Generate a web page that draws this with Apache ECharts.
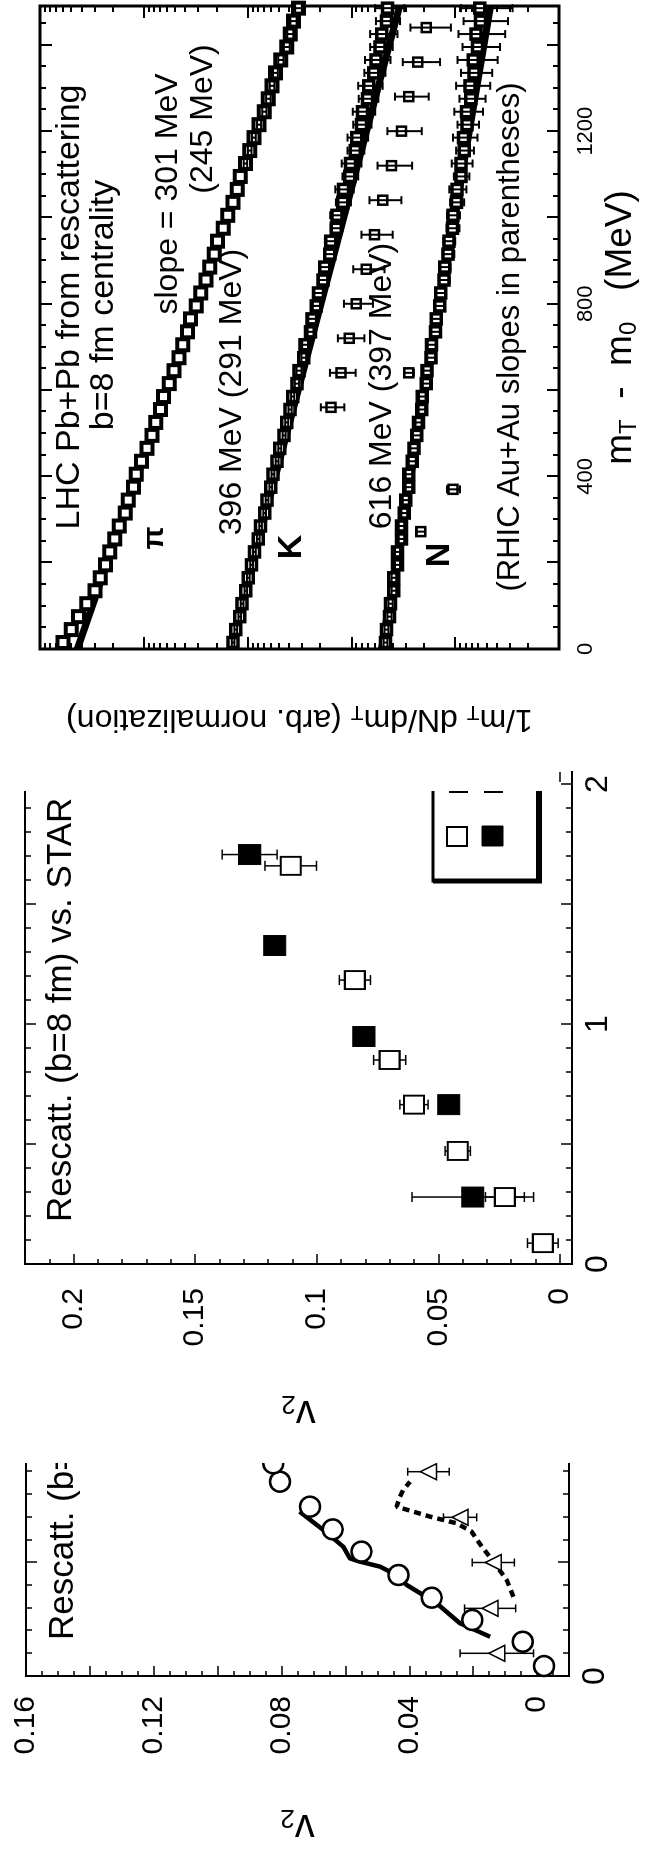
<!DOCTYPE html>
<html>
<head>
<meta charset="utf-8">
<script src="https://cdn.jsdelivr.net/npm/echarts@6/dist/echarts.min.js"></script>
<style>
  html, body { margin: 0; padding: 0; background: #fff; width: 645px; height: 1854px; overflow: hidden; }
  /* the three panels are laid out on a landscape sheet that is turned a quarter turn */
  #sheet { position: absolute; left: 0; top: 0; width: 1854px; height: 645px; background: #fff;
           transform-origin: 0 0; transform: translateY(1854px) rotate(-90deg); }
  .clip { position: absolute; top: 0; height: 645px; overflow: hidden; }
  .chart { position: absolute; left: 0; top: 0; height: 645px; }
  #cover { position: absolute; left: 1063px; top: 0; width: 791px; height: 555px; background: #fff; }
</style>
</head>
<body>
<div id="sheet">
  <div class="clip" style="left:0;width:391px;background:#fff"><div class="chart" id="p1" style="width:900px"></div></div>
  <div class="clip" style="left:391px;width:709px;background:#fff"><div class="chart" id="p2" style="width:1000px"></div></div>
  <div id="cover"></div>
  <div class="clip" style="left:1063px;width:791px"><div class="chart" id="p3" style="width:791px"></div></div>
</div>
<script>
const FONT = '"Liberation Sans", Arial, Helvetica, sans-serif';

// ---------- panel 1: v2(pT), rescattering, b=8 fm ----------
const p1CirclePt = [0.044, 0.151, 0.247, 0.345, 0.445, 0.548, 0.646, 0.746, 0.856, 0.937];
const p1CircleV2 = [-0.0022, 0.0045, 0.0203, 0.033, 0.0434, 0.055, 0.064, 0.0711, 0.0805, 0.0826];
const p1TriPt = [0.10, 0.298, 0.50, 0.699, 0.90];
const p1TriV2 = [0.0126, 0.0147, 0.0137, 0.0241, 0.034];
const p1TriErr = [0.0115, 0.008, 0.0066, 0.0052, 0.0065];
const p1SolidPt = [0.173, 0.232, 0.320, 0.401, 0.452, 0.482, 0.504, 0.518, 0.570, 0.643, 0.724];
const p1SolidV2 = [0.0147, 0.0241, 0.0314, 0.0408, 0.0450, 0.0492, 0.0555, 0.0586, 0.0607, 0.0669, 0.0743];
const p1DashPt = [0.349, 0.423, 0.504, 0.570, 0.636, 0.673, 0.687, 0.702, 0.724, 0.746, 0.790, 0.819, 0.856];
const p1DashV2 = [0.0074, 0.0095, 0.0137, 0.0173, 0.0205, 0.0252, 0.0293, 0.0335, 0.0387, 0.0440, 0.0429, 0.0419, 0.0398];
const p1XLabels = [0, 1, 2];
const p1YLabels = [0, 0.04, 0.08, 0.12, 0.16];

// ---------- panel 2: rescattering (b=8 fm) vs. STAR ----------
const p2OpenPt = [0.087, 0.279, 0.471, 0.664, 0.850, 1.183, 1.659];
const p2OpenV2 = [0.007, 0.0226, 0.042, 0.060, 0.070, 0.0843, 0.1107];
const p2OpenErr = [0.0063, 0.008, 0.0052, 0.0058, 0.0066, 0.0064, 0.0106];
const p2FilledPt = [0.279, 0.664, 0.948, 1.327, 1.706];
const p2FilledV2 = [0.0358, 0.0457, 0.0806, 0.1173, 0.1276];
const p2FilledErr = [0.025, 0.002, 0.002, 0.002, 0.0113];
const p2XLabels = [0, 1, 2];
const p2YLabels = [0, 0.05, 0.1, 0.15, 0.2];

// ---------- panel 3: mT spectra, LHC Pb+Pb ----------
const p3M = [15, 45, 75, 105, 135, 165, 195, 225, 255, 285, 315, 345, 375, 405, 435, 465, 495, 525, 555, 585,
             615, 645, 675, 705, 735, 765, 795, 825, 855, 885, 915, 945, 975, 1005, 1035, 1065, 1095, 1125, 1155, 1185,
             1215, 1245, 1275, 1305, 1335, 1365, 1395, 1425, 1455, 1485];
const piV = [60000, 50000, 42500, 35500, 29600, 26300, 23400, 21300, 19100, 17200, 15100, 14100, 12600, 11800, 10500, 9330, 8350, 7670, 6920, 6450,
             5690, 5130, 4590, 4220, 3800, 3540, 3130, 2820, 2520, 2320, 2090, 1950, 1720, 1550, 1380, 1260, 1180, 1050, 955, 870,
             776, 690, 631, 582, 540, 479, 420, 389, 362, 324];
const piErr = [0, 0, 0, 0, 0, 0, 0, 0, 0, 0, 0, 0, 0, 0, 0, 0, 0, 0, 0, 0,
               0, 0, 0, 0, 0, 0, 0, 0, 0, 0, 0, 0, 0, 0, 0, 0, 0, 40, 38, 36,
               35, 33, 32, 30, 29, 28, 27, 26, 25, 24];
const kV = [1380, 1300, 1190, 1130, 1040, 985, 915, 860, 790, 750, 685, 650, 598, 570, 520, 490, 445, 420, 390, 368,
            335, 320, 288, 280, 248, 240, 218, 208, 188, 181, 162, 158, 140, 138, 121, 119, 104, 102, 92, 89,
            80, 78, 70, 68, 61, 58, 53, 51, 46, 45];
const kErr = [40, 40, 35, 35, 30, 30, 28, 26, 24, 22, 20, 20, 18, 18, 17, 16, 15, 14, 14, 13,
              16, 18, 15, 18, 16, 20, 17, 20, 18, 20, 18, 22, 18, 22, 20, 24, 18, 22, 17, 20,
              16, 19, 15, 18, 14, 16, 13, 15, 12, 14];
const kLowM = [560, 640, 720, 800, 880, 960, 1040, 1120, 1200, 1280, 1360, 1440];
const kLowV = [157, 126, 105, 90, 72, 60, 50, 41, 33, 28, 23, 19];
const kLowErr = [40, 35, 30, 28, 24, 20, 17, 15, 12, 10, 9, 8];
const nV = [47, 46, 43, 42, 39, 39, 36, 36, 33, 33, 31, 30, 28, 28, 26, 25, 23.5, 22.6, 21, 20.8,
            19, 18.7, 17.1, 16.9, 15.5, 15.2, 14.1, 13.8, 12.8, 12.6, 11.7, 11.5, 10.6, 10.5, 9.7, 9.6, 8.8, 8.8, 8.2, 8.3,
            7.7, 7.8, 7.1, 7.2, 6.6, 6.7, 6.1, 6.3, 5.7, 5.8];
const nErr = [2, 2, 2, 2, 2, 2, 2, 2, 2, 2, 2, 2, 2, 2, 2, 2, 2, 1.5, 1.5, 1.5,
              1.5, 1.5, 1.5, 1.5, 1.5, 1.5, 1.5, 1.5, 1.5, 1.5, 1.5, 1.5, 1.5, 1.5, 1.5, 1.8, 1.5, 2, 1.6, 2.2,
              1.8, 2.4, 2, 2.6, 2.2, 2.8, 2.4, 3, 2.6, 3];
const nOddM = [272, 370, 640];
const nOddV = [21.5, 10.5, 28];
const nOddErr = [2, 1.5, 3];
// exponential fits: inverse slopes (MeV) as quoted, values at m = 0
const p3Slopes = [301, 396, 616];
const p3Norms = [43650, 1480, 51.3];
const p3MRange = [0, 1490];
const p3XLabels = [0, 400, 800, 1200];
const p3YDecades = [1, 10, 100, 1000, 10000, 100000];

// ---------- helpers ----------
function steps(a, b, step) {
  const out = [];
  for (let i = 0; a + i * step <= b + step * 1e-6; i++) out.push(+(a + i * step).toFixed(6));
  return out;
}
function minus(list, drop) {
  return list.filter(v => !drop.some(d => Math.abs(d - v) < 1e-9));
}
function pairs(xs, ys) { return xs.map((x, i) => [x, ys[i]]); }

// four overlaid axes per dimension: labelled major ticks, minor ticks, and their mirrors
function frameAxes(o) {
  const base = { type: o.type || 'value', min: o.min, max: o.max, gridIndex: 0,
    splitLine: { show: false }, minorTick: { show: false } };
  const line = (show) => ({ show: show, onZero: false, lineStyle: { color: '#000', width: o.lineWidth || 2, cap: 'square' } });
  const tick = (vals, len) => ({ show: true, inside: true, length: len, customValues: vals,
    lineStyle: { color: '#000', width: o.tickWidth || 1.5 } });
  const main = Object.assign({}, base, {
    position: o.pos, axisLine: line(!!o.drawLine), axisTick: tick(o.majors, o.majorLen),
    axisLabel: Object.assign({ show: !!o.labels, customValues: o.labels, color: '#000', fontFamily: FONT,
      formatter: v => String(v) }, o.label || {}),
    name: o.name || '', nameLocation: 'middle', nameGap: o.nameGap || 0, nameRotate: o.nameRotate,
    nameTextStyle: o.nameStyle
  });
  return [
    main,
    Object.assign({}, base, { position: o.pos, axisLine: line(false), axisTick: tick(o.minors, o.minorLen), axisLabel: { show: false } }),
    Object.assign({}, base, { position: o.mirror, axisLine: line(!!o.drawMirrorLine), axisTick: tick(o.majors, o.majorLen), axisLabel: { show: false } }),
    Object.assign({}, base, { position: o.mirror, axisLine: line(false), axisTick: tick(o.minors, o.minorLen), axisLabel: { show: false } })
  ];
}

function errorBars(rows, cap, width, z) {
  return {
    type: 'custom', z: z, silent: true, animation: false, clip: false,
    encode: { x: 0, y: [1, 2] },
    data: rows,
    renderItem: function (params, api) {
      const x = api.value(0);
      const hi = api.coord([x, api.value(2)]);
      const lo = api.coord([x, api.value(1)]);
      const st = { stroke: '#000', lineWidth: width, fill: null };
      return { type: 'group', children: [
        { type: 'line', shape: { x1: hi[0], y1: hi[1], x2: lo[0], y2: lo[1] }, style: st },
        { type: 'line', shape: { x1: hi[0] - cap, y1: hi[1], x2: hi[0] + cap, y2: hi[1] }, style: st },
        { type: 'line', shape: { x1: lo[0] - cap, y1: lo[1], x2: lo[0] + cap, y2: lo[1] }, style: st }
      ] };
    }
  };
}
function barRows(xs, ys, errs, floor) {
  const rows = [];
  xs.forEach((x, i) => {
    if (!errs[i]) return;
    rows.push([x, Math.max(ys[i] - errs[i], floor), ys[i] + errs[i]]);
  });
  return rows;
}
function marks(data, symbol, size, fill, border, z) {
  return { type: 'scatter', symbol: symbol, symbolSize: size, data: data, z: z, silent: true, animation: false,
    itemStyle: { color: fill, borderColor: '#000', borderWidth: border, opacity: 1 } };
}
function curve(data, width, dash, z) {
  return { type: 'line', data: data, symbol: 'none', showSymbol: false, z: z, silent: true, animation: false,
    lineStyle: { color: '#000', width: width, type: dash || 'solid', cap: 'butt' } };
}
function label(text, x, y, size, opts) {
  opts = opts || {};
  return { type: 'text', x: x, y: y, silent: true, z: 20,
    style: { text: text, fill: '#000', font: (opts.weight || 'normal') + ' ' + size + 'px ' + FONT,
      textAlign: opts.align || 'center', align: opts.align || 'center',
      textVerticalAlign: 'middle', verticalAlign: 'middle' } };
}
const sub = (size, drop) => ({ fontSize: size, fontFamily: FONT, color: '#000', padding: [drop, 0, 0, 0] });

// ---------- panel 1 ----------
const c1 = echarts.init(document.getElementById('p1'), null, { renderer: 'canvas' });
c1.setOption({
  animation: false,
  grid: { left: 178, top: 26, width: 454, height: 543, show: false, outerBoundsMode: 'none' },
  xAxis: frameAxes({ min: 0, max: 2, pos: 'bottom', mirror: 'top', drawLine: true, drawMirrorLine: true,
    majors: [0, 0.5, 1, 1.5, 2], minors: minus(steps(0, 2, 0.1), [0, 0.5, 1, 1.5, 2]),
    labels: p1XLabels, majorLen: 11, minorLen: 6, label: { fontSize: 32, margin: 10 } }),
  yAxis: frameAxes({ min: -0.01, max: 0.16, pos: 'left', mirror: 'right', drawLine: true,
    majors: steps(0, 0.16, 0.02), minors: minus(steps(-0.01, 0.16, 0.005), steps(0, 0.16, 0.02)),
    labels: p1YLabels, majorLen: 10, minorLen: 5, label: { fontSize: 30, margin: 20 },
    name: 'v{s|2}', nameGap: 128, nameRotate: 90,
    nameStyle: { fontSize: 40, fontFamily: FONT, color: '#000', rich: { s: sub(26, 18) } } }),
  graphic: [ label('Rescatt. (b=8 fm) vs. PHENIX', 214, 63, 35, { align: 'left' }) ],
  series: [
    curve(pairs(p1SolidPt, p1SolidV2), 4.5, 'solid', 3),
    curve(pairs(p1DashPt, p1DashV2), 4.5, [7, 5], 3),
    errorBars(barRows(p1TriPt, p1TriV2, p1TriErr, -1), 4, 1.5, 4),
    marks(pairs(p1TriPt, p1TriV2), 'triangle', 16, '#fff', 1.5, 5),
    marks(pairs(p1CirclePt, p1CircleV2), 'circle', 20, '#fff', 2.5, 6)
  ]
});

// ---------- panel 2 ----------
const c2 = echarts.init(document.getElementById('p2'), null, { renderer: 'canvas' });
c2.setOption({
  animation: false,
  grid: { left: 199, top: 25, width: 492, height: 547, show: false, outerBoundsMode: 'none' },
  xAxis: frameAxes({ min: 0, max: 2.05, pos: 'bottom', mirror: 'top', drawLine: true, drawMirrorLine: true,
    majors: [0, 0.5, 1, 1.5, 2], minors: minus(steps(0, 2, 0.1), [0, 0.5, 1, 1.5, 2]),
    labels: p2XLabels, majorLen: 11, minorLen: 6, label: { fontSize: 32, margin: 10 } }),
  yAxis: frameAxes({ min: -0.005, max: 0.22, pos: 'left', mirror: 'right', drawLine: true,
    majors: steps(0, 0.2, 0.05), minors: minus(steps(0, 0.22, 0.01), steps(0, 0.2, 0.05)),
    labels: p2YLabels, majorLen: 10, minorLen: 5, label: { fontSize: 30, margin: 24 },
    name: 'v{s|2}', nameGap: 126, nameRotate: 90,
    nameStyle: { fontSize: 40, fontFamily: FONT, color: '#000', rich: { s: sub(26, 18) } } }),
  graphic: [
    label('Rescatt. (b=8 fm) vs. STAR', 241, 61, 35, { align: 'left' }),
    { type: 'rect', silent: true, z: 10, shape: { x: 582, y: 433, width: 200, height: 106 },
      style: { fill: '#fff', stroke: '#000', lineWidth: 3 } },
    { type: 'line', silent: true, z: 11, shape: { x1: 582, y1: 539, x2: 800, y2: 539 }, style: { stroke: '#000', lineWidth: 6 } },
    { type: 'line', silent: true, z: 11, shape: { x1: 582, y1: 433, x2: 582, y2: 542 }, style: { stroke: '#000', lineWidth: 5 } },
    { type: 'rect', silent: true, z: 11, shape: { x: 617, y: 447, width: 19, height: 20 },
      style: { fill: '#fff', stroke: '#000', lineWidth: 2 } },
    { type: 'rect', silent: true, z: 11, shape: { x: 617, y: 482, width: 20, height: 21 },
      style: { fill: '#000', stroke: '#000', lineWidth: 1 } },
    { type: 'line', silent: true, z: 11, shape: { x1: 671, y1: 449, x2: 671, y2: 468 }, style: { stroke: '#000', lineWidth: 2 } },
    { type: 'line', silent: true, z: 11, shape: { x1: 671, y1: 484, x2: 671, y2: 503 }, style: { stroke: '#000', lineWidth: 2 } }
  ],
  series: [
    errorBars(barRows(p2FilledPt, p2FilledV2, p2FilledErr, -1), 5, 1.5, 3),
    marks(pairs(p2FilledPt, p2FilledV2), 'rect', [20, 22], '#000', 1, 4),
    errorBars(barRows(p2OpenPt, p2OpenV2, p2OpenErr, -1), 5, 1.5, 5),
    marks(pairs(p2OpenPt, p2OpenV2), 'rect', [18, 20], '#fff', 2, 6)
  ]
});

// ---------- panel 3 ----------
const c3 = echarts.init(document.getElementById('p3'), null, { renderer: 'canvas' });
const logMinors = [];
p3YDecades.slice(0, -1).forEach(d => { for (let k = 2; k <= 9; k++) logMinors.push(d * k); });
const fitLine = (i) => [[p3MRange[0], p3Norms[i] * Math.exp(-p3MRange[0] / p3Slopes[i])],
                        [p3MRange[1], p3Norms[i] * Math.exp(-p3MRange[1] / p3Slopes[i])]];
c3.setOption({
  animation: false,
  grid: { left: 142, top: 40, width: 643, height: 519, show: true, borderColor: '#000', borderWidth: 3, outerBoundsMode: 'none' },
  xAxis: frameAxes({ min: p3MRange[0], max: p3MRange[1], pos: 'bottom', mirror: 'top',
    majors: steps(0, 1400, 200), minors: minus(steps(0, 1450, 50), steps(0, 1400, 200)),
    labels: p3XLabels, majorLen: 12, minorLen: 6, tickWidth: 2, label: { fontSize: 22, margin: 16 },
    name: 'm{s|T}  -  m{s|0}   (MeV)', nameGap: 40,
    nameStyle: { fontSize: 37, fontFamily: FONT, color: '#000', rich: { s: sub(24, 17) } } }),
  yAxis: frameAxes({ type: 'log', min: 1, max: 100000, pos: 'left', mirror: 'right',
    majors: p3YDecades, minors: logMinors, majorLen: 12, minorLen: 6, tickWidth: 2,
    name: '1/m{s|T} dN/dm{s|T} (arb. normalization)', nameGap: 52, nameRotate: 90,
    nameStyle: { fontSize: 32, fontFamily: FONT, color: '#000', rich: { s: sub(21, 15) } } }),
  graphic: [
    label('LHC Pb+Pb from rescattering', 484, 70, 34),
    label('b=8 fm centrality', 486, 104, 34),
    label('slope = 301 MeV', 597, 168, 32),
    label('(245 MeV)', 672, 203, 32),
    label('π', 253, 155, 30, { weight: 'bold' }),
    label('396 MeV (291 MeV)', 399, 232, 32),
    label('K', 244, 292, 34, { weight: 'bold' }),
    label('616 MeV (397 MeV)', 405, 382, 32),
    label('N', 236, 440, 34, { weight: 'bold' }),
    label('(RHIC Au+Au slopes in parentheses)', 454, 510, 31)
  ],
  series: [
    curve(fitLine(0), 7, 'solid', 2),
    curve(fitLine(1), 7, 'solid', 2),
    curve(fitLine(2), 7, 'solid', 2),
    marks(pairs(p3M, piV), 'rect', 11, '#fff', 4, 3),
    marks(pairs(p3M, kV), 'rect', 10, '#fff', 3.5, 3),
    marks(pairs(p3M, nV), 'rect', 10, '#fff', 3.5, 3),
    marks(pairs(kLowM, kLowV), 'rect', 9, '#fff', 2.5, 3),
    marks(pairs(nOddM, nOddV), 'rect', 9, '#fff', 2.5, 3),
    errorBars(barRows(p3M, piV, piErr, 1), 4, 2, 4),
    errorBars(barRows(p3M, kV, kErr, 1), 4, 2, 4),
    errorBars(barRows(p3M, nV, nErr, 1), 4, 2, 4),
    errorBars(barRows(kLowM, kLowV, kLowErr, 1), 4, 2, 4),
    errorBars(barRows(nOddM, nOddV, nOddErr, 1), 4, 2, 4)
  ]
});
</script>
</body>
</html>
